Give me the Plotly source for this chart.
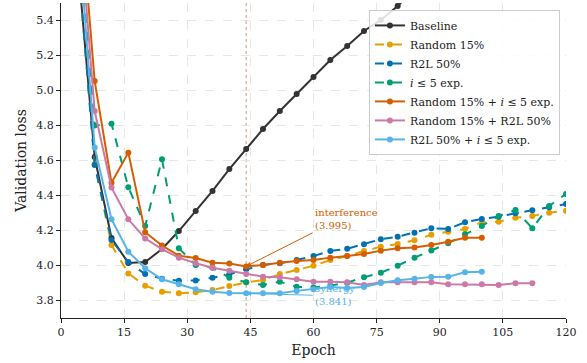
import plotly.graph_objects as go

epochs_full = [4, 8, 12, 16, 20, 24, 28, 32, 36, 40, 44, 48, 52, 56, 60, 64, 68, 72, 76, 80,
               84, 88, 92, 96, 100, 104, 108, 112, 116, 120]

baseline_epochs = [4, 8, 12, 16, 20, 24, 28, 32, 36, 40, 44, 48, 52, 56, 60, 64, 68, 72, 76, 80, 84]
baseline = [5.73, 4.62, 4.157, 4.014, 4.02, 4.094, 4.197, 4.311, 4.426, 4.551, 4.666, 4.78,
            4.883, 4.98, 5.077, 5.174, 5.254, 5.34, 5.403, 5.483, 5.58]

random15 = [5.75, 4.58, 4.117, 3.955, 3.885, 3.85, 3.841, 3.847, 3.86, 3.883, 3.904, 3.917,
            3.951, 3.974, 3.999, 4.031, 4.054, 4.083, 4.107, 4.123, 4.144, 4.176, 4.193, 4.209,
            4.247, 4.25, 4.273, 4.283, 4.302, 4.313]

r2l50 = [5.75, 4.574, 4.146, 4.02, 3.951, 3.925, 3.913, 3.915, 3.93, 3.95, 3.978, 4.003,
         4.013, 4.031, 4.054, 4.083, 4.096, 4.121, 4.15, 4.165, 4.187, 4.213, 4.209, 4.247,
         4.266, 4.279, 4.298, 4.315, 4.333, 4.351]

exp5 = [5.95, 4.80, 4.81, 4.447, 4.226, 4.607, 4.098, 4.003, 3.987, 3.93, 3.904, 3.889,
        3.907, 3.879, 3.875, 3.885, 3.902, 3.933, 3.959, 3.999, 4.045, 4.086, 4.127, 4.178,
        4.226, 4.283, 4.317, 4.213, 4.34, 4.409]

rand_exp_epochs = epochs_full[:25]
rand_exp = [6.23, 5.054, 4.473, 4.645, 4.19, 4.114, 4.056, 4.043, 4.016, 4.012, 3.995, 4.003,
            4.016, 4.026, 4.031, 4.045, 4.054, 4.066, 4.085, 4.098, 4.103, 4.117, 4.136, 4.159,
            4.159]

rand_r2l_epochs = epochs_full[:28]
rand_r2l = [6.09, 4.883, 4.445, 4.264, 4.155, 4.093, 4.045, 4.013, 3.987, 3.97, 3.951, 3.936,
            3.933, 3.921, 3.907, 3.907, 3.904, 3.889, 3.904, 3.904, 3.905, 3.904, 3.893, 3.893,
            3.893, 3.889, 3.898, 3.898]

r2l_exp_epochs = epochs_full[:25]
r2l_exp = [5.96, 4.675, 4.264, 4.079, 3.984, 3.921, 3.893, 3.864, 3.85, 3.843, 3.841, 3.841,
           3.841, 3.855, 3.865, 3.877, 3.872, 3.877, 3.9, 3.916, 3.925, 3.935, 3.936, 3.961,
           3.965]

series = [
    ("Baseline", baseline_epochs, baseline, "#333333", "solid"),
    ("Random 15%", epochs_full, random15, "#E69F00", "dash"),
    ("R2L 50%", epochs_full, r2l50, "#0072B2", "dash"),
    ("<i>i</i> ≤ 5 exp.", epochs_full, exp5, "#009E73", "dash"),
    ("Random 15% + <i>i</i> ≤ 5 exp.", rand_exp_epochs, rand_exp, "#D55E00", "solid"),
    ("Random 15% + R2L 50%", rand_r2l_epochs, rand_r2l, "#CC79A7", "solid"),
    ("R2L 50% + <i>i</i> ≤ 5 exp.", r2l_exp_epochs, r2l_exp, "#56B4E9", "solid"),
]

FONT = "DejaVu Serif"

fig = go.Figure()
for name, xs, ys, color, dash in series:
    fig.add_trace(go.Scatter(
        x=xs, y=ys, name=name, mode="lines+markers",
        line=dict(color=color, width=2, dash=dash),
        marker=dict(color=color, size=6),
    ))

fig.add_shape(type="line", x0=44, x1=44, y0=3.7, y1=5.5, xref="x", yref="y",
              line=dict(color="rgba(150,90,50,0.6)", width=1, dash="dot"), layer="below")

fig.add_annotation(x=44, y=3.995, ax=59.8, ay=4.187, xref="x", yref="y", axref="x", ayref="y",
                   text="interference<br>(3.995)", showarrow=True, arrowhead=2, arrowsize=1,
                   arrowwidth=1, arrowcolor="#D55E00", xanchor="left", yanchor="bottom",
                   align="left", font=dict(family=FONT, size=10, color="#D55E00"))
fig.add_annotation(x=44, y=3.841, ax=59.8, ay=3.83, xref="x", yref="y", axref="x", ayref="y",
                   text="synergy<br>(3.841)", showarrow=True, arrowhead=2, arrowsize=1,
                   arrowwidth=1, arrowcolor="#56B4E9", xanchor="left", yanchor="middle",
                   align="left", font=dict(family=FONT, size=10, color="#56B4E9"))

fig.update_layout(
    width=587, height=363,
    margin=dict(l=61, r=21, t=3, b=45),
    paper_bgcolor="white", plot_bgcolor="white",
    font=dict(family=FONT, size=11, color="#222"),
    legend=dict(x=0.988, y=0.978, xanchor="right", yanchor="top",
                bgcolor="rgba(255,255,255,0.85)", bordercolor="#cccccc", borderwidth=1,
                font=dict(family=FONT, size=11), itemwidth=30, tracegroupgap=0),
    showlegend=True,
)
fig.update_xaxes(range=[0, 120], tickvals=[0, 15, 30, 45, 60, 75, 90, 105, 120],
                 title=dict(text="Epoch", font=dict(size=14), standoff=6),
                 showline=True, linecolor="#222", linewidth=1.2, ticks="outside", ticklen=4,
                 tickcolor="#222", showgrid=True, gridcolor="#e6e6e6", griddash="dash",
                 zeroline=False, tickfont=dict(size=11))
fig.update_yaxes(range=[3.7, 5.5], tickvals=[3.8, 4.0, 4.2, 4.4, 4.6, 4.8, 5.0, 5.2, 5.4],
                 tickformat=".1f",
                 title=dict(text="Validation loss", font=dict(size=14), standoff=6),
                 showline=True, linecolor="#222", linewidth=1.2, ticks="outside", ticklen=4,
                 tickcolor="#222", showgrid=True, gridcolor="#e6e6e6", griddash="dash",
                 zeroline=False, tickfont=dict(size=11))

fig.write_html("out.html")
